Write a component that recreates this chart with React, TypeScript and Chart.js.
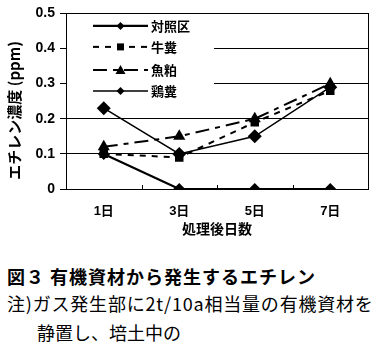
import React, { useEffect, useRef } from "react";
import { Chart, registerables } from "chart.js";

Chart.register(...registerables);

const categories = ["1日", "3日", "5日", "7日"];
const seriesNames = ["対照区", "牛糞", "魚粕", "鶏糞"];
const control = [0.1, 0.0, 0.0, 0.0];
const cattle = [0.1, 0.09, 0.19, 0.28];
const fish = [0.12, 0.15, 0.2, 0.3];
const chicken = [0.23, 0.1, 0.15, 0.29];
const yTicks = [0, 0.1, 0.2, 0.3, 0.4, 0.5];

const FONT = '"Liberation Sans", "Noto Sans CJK JP", sans-serif';
const JFONT = '"Noto Sans CJK JP", sans-serif';

const styles = [
  { dash: [] as number[], width: 2.2, point: "rectRot", radius: 6 },
  { dash: [6, 6], width: 2, point: "rect", radius: 6 },
  { dash: [14, 6, 5, 6], width: 2, point: "triangle", radius: 7 },
  { dash: [] as number[], width: 1.5, point: "rectRot", radius: 7 },
];

const legendPlugin = {
  id: "customLegend",
  beforeDatasetsDraw(chart: any) {
    const { ctx, chartArea } = chart;
    const x0 = chartArea.left;
    const y0 = chartArea.top;
    ctx.save();
    ctx.fillStyle = "#fff";
    ctx.fillRect(x0 + 1, y0 + 1, 147, 88);
    const xs = chart.scales.x;
    ctx.strokeStyle = "#000";
    ctx.lineWidth = 1;
    for (let i = 1; i < categories.length; i++) {
      const bx = Math.round((xs.getPixelForValue(i - 1) + xs.getPixelForValue(i)) / 2) + 0.5;
      ctx.beginPath();
      ctx.moveTo(bx, chartArea.bottom);
      ctx.lineTo(bx, chartArea.bottom - 4);
      ctx.stroke();
    }
    const lx1 = x0 + 27;
    const lx2 = x0 + 82;
    const rowY = [y0 + 12, y0 + 33, y0 + 56, y0 + 77];
    chart.data.datasets.forEach((ds: any, i: number) => {
      const y = rowY[i] + 0.5;
      ctx.save();
      ctx.strokeStyle = "#000";
      ctx.lineWidth = styles[i].width;
      ctx.setLineDash(styles[i].dash);
      ctx.beginPath();
      ctx.moveTo(lx1, y);
      ctx.lineTo(lx2, y);
      ctx.stroke();
      ctx.restore();
      const cx = (lx1 + lx2) / 2;
      ctx.fillStyle = "#000";
      ctx.beginPath();
      const r = 4;
      if (styles[i].point === "rectRot") {
        ctx.moveTo(cx, y - r);
        ctx.lineTo(cx + r, y);
        ctx.lineTo(cx, y + r);
        ctx.lineTo(cx - r, y);
      } else if (styles[i].point === "rect") {
        ctx.rect(cx - 3.5, y - 3.5, 7, 7);
      } else {
        ctx.moveTo(cx, y - 5);
        ctx.lineTo(cx + 5, y + 4);
        ctx.lineTo(cx - 5, y + 4);
      }
      ctx.closePath();
      ctx.fill();
      ctx.font = "bold 13px " + JFONT;
      ctx.textBaseline = "middle";
      ctx.textAlign = "left";
      ctx.fillText(ds.label, lx2 + 3, y);
    });
    ctx.restore();
  },
  afterDraw(chart: any) {
    const { ctx, chartArea } = chart;
    ctx.save();
    ctx.strokeStyle = "#000";
    ctx.lineWidth = 1;
    ctx.strokeRect(
      Math.round(chartArea.left) + 0.5,
      Math.round(chartArea.top) + 0.5,
      Math.round(chartArea.right - chartArea.left),
      Math.round(chartArea.bottom - chartArea.top)
    );
    ctx.restore();
  },
};

export default function App() {
  const ref = useRef<HTMLCanvasElement | null>(null);
  useEffect(() => {
    if (!ref.current) return;
    const data = [control, cattle, fish, chicken];
    const chart = new Chart(ref.current, {
      type: "line",
      data: {
        labels: categories,
        datasets: data.map((d, i) => ({
          label: seriesNames[i],
          data: d,
          borderColor: "#000",
          backgroundColor: "#000",
          borderWidth: styles[i].width,
          borderDash: styles[i].dash,
          pointStyle: styles[i].point as any,
          pointRadius: styles[i].radius,
          pointBackgroundColor: "#000",
          pointBorderColor: "#000",
          pointBorderWidth: 0,
          tension: 0,
          fill: false,
        })),
      },
      options: {
        animation: false,
        responsive: false,
        maintainAspectRatio: false,
        layout: { padding: { left: 0, top: 13, right: 11, bottom: 3 } },
        plugins: { legend: { display: false }, tooltip: { enabled: false } },
        scales: {
          x: {
            offset: true,
            grid: { display: false, drawTicks: false, tickLength: 0, offset: true },
            border: { display: false },
            ticks: {
              color: "#000",
              font: { family: FONT, size: 13, weight: "bold" },
              padding: 15,
            },
            title: {
              display: true,
              text: "処理後日数",
              color: "#000",
              font: { family: JFONT, size: 14, weight: "bold" },
              padding: { top: 0, bottom: 0 },
            },
            afterFit(scale: any) {
              scale.height = 48;
            },
          },
          y: {
            min: 0,
            max: 0.5,
            afterBuildTicks(scale: any) {
              scale.ticks = yTicks.map((v) => ({ value: v }));
            },
            grid: {
              color: "#000",
              lineWidth: 1,
              drawTicks: true,
              tickLength: 6,
            },
            border: { display: false },
            ticks: {
              color: "#000",
              font: { family: FONT, size: 14, weight: "bold" },
              padding: 5,
              callback: (v: any) => (Number(v) === 0 ? "0" : Number(v).toFixed(1)),
            },
            title: {
              display: true,
              text: "エチレン濃度 (ppm)　 ",
              color: "#000",
              font: { family: JFONT, size: 15, weight: "bold" },
              padding: { top: 5, bottom: 0 },
            },
            afterFit(scale: any) {
              scale.width = 66;
            },
          },
        },
      },
      plugins: [legendPlugin],
    });
    return () => chart.destroy();
  }, []);

  return (
    <div style={{ position: "absolute", left: 0, top: 0, width: 379, height: 354, background: "#fff" }}>
      <canvas ref={ref} width={379} height={240} style={{ display: "block" }} />
      <div
        style={{
          position: "absolute",
          left: 7,
          top: 266,
          fontFamily: JFONT,
          fontWeight: "bold",
          fontSize: 18,
          lineHeight: "20px",
          letterSpacing: "1px",
          whiteSpace: "nowrap",
          color: "#000",
        }}
      >
        図３ 有機資材から発生するエチレン
      </div>
      <div
        style={{
          position: "absolute",
          left: 7,
          top: 289,
          fontFamily: JFONT,
          fontSize: 18,
          lineHeight: "29px",
          whiteSpace: "nowrap",
          color: "#000",
        }}
      >
        <div style={{ letterSpacing: "0.8px" }}>注)ガス発生部に2t/10a相当量の有機資材を</div>
        <div style={{ paddingLeft: 30 }}>静置し、培土中の</div>
      </div>
    </div>
  );
}
